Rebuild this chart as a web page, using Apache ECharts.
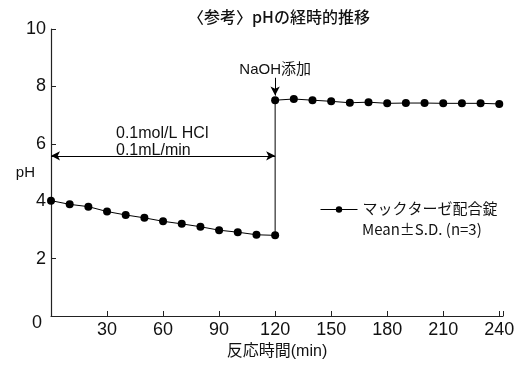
<!DOCTYPE html>
<html><head><meta charset="utf-8">
<script src="https://cdn.jsdelivr.net/npm/echarts@6/dist/echarts.min.js"></script>
<style>html,body{margin:0;padding:0;background:#fff}#c{width:525px;height:365px}</style>
</head><body><div id="c"></div>
<script>
const times = [0,10,20,30,40,50,60,70,80,90,100,110,120,120,130,140,150,160,170,180,190,200,210,220,230,240];
const phValues = [4.02,3.89,3.81,3.64,3.52,3.42,3.30,3.21,3.11,2.99,2.92,2.83,2.81,7.52,7.56,7.52,7.48,7.43,7.45,7.41,7.42,7.42,7.41,7.41,7.41,7.39];
const xTicks = [30,60,90,120,150,180,210,240];
const yTicks = [0,2,4,6,8,10];
const seriesName = 'マックターゼ配合錠';
const noteText = 'Mean±S.D. (n=3)';
const hclText = ['0.1mol/L HCl','0.1mL/min'];
const naohText = 'NaOH添加';

const latin = '"Liberation Sans", "Noto Sans CJK JP", sans-serif';
const cjk = '"Noto Sans CJK JP", sans-serif';
const narrow = '"Liberation Sans Narrow", "Liberation Sans", sans-serif';
const chart = echarts.init(document.getElementById('c'));
chart.setOption({
  animation:false,
  backgroundColor:'#fff',
  title:{text:'〈参考〉pHの経時的推移',left:274,textAlign:'center',top:4,
    textStyle:{fontSize:16,fontWeight:500,color:'#111',fontFamily:cjk}},
  grid:{left:51,right:22,top:29,bottom:43,containLabel:false},
  legend:{data:[seriesName],left:315,top:197,itemWidth:37,itemHeight:8,
    lineStyle:{width:1},
    textStyle:{fontSize:15,color:'#111',fontFamily:latin}},
  graphic:[{type:'text',left:362,top:222,style:{text:noteText,fontSize:15,fill:'#111',fontFamily:cjk}}],
  xAxis:{type:'value',min:0,max:242,interval:30,
    name:'反応時間(min)',nameLocation:'middle',nameGap:28,nameMoveOverlap:false,
    nameTextStyle:{fontSize:16,color:'#111',fontFamily:latin},
    axisLine:{lineStyle:{color:'#222',width:1.2}},
    axisTick:{inside:true,length:5,lineStyle:{color:'#222'}},
    axisLabel:{fontSize:18,color:'#111',fontFamily:narrow,margin:5,
      formatter:v=>xTicks.includes(v)?String(v):''},
    splitLine:{show:false}},
  yAxis:{type:'value',min:0,max:10,interval:2,
    name:'pH',nameLocation:'middle',nameGap:16,nameRotate:0,nameMoveOverlap:false,
    nameTextStyle:{fontSize:15,color:'#111',fontFamily:latin,padding:[0,0,10,0]},
    axisLine:{show:true,lineStyle:{color:'#222',width:1.2}},
    axisTick:{show:true,inside:true,length:5,lineStyle:{color:'#222'}},
    axisLabel:{fontSize:18,color:'#111',fontFamily:narrow,margin:5,
      formatter:v=>yTicks.includes(v)?(v===0?'{z|0}':String(v)):'',
      rich:{z:{fontSize:18,fontFamily:narrow,color:'#111',padding:[14,4,0,0]}}},
    splitLine:{show:false}},
  series:[{
    name:seriesName,type:'line',
    data:times.map((t,i)=>[t,phValues[i]]),
    symbol:'circle',symbolSize:8,
    itemStyle:{color:'#000'},lineStyle:{color:'#000',width:1},
    markLine:{silent:true,symbolSize:[7,9],
      lineStyle:{color:'#000',width:1,type:'solid'},
      data:[
        [{coord:[0,5.58],symbol:'arrow'},{coord:[120,5.58],symbol:'arrow',
          label:{show:true,position:'insideStartTop',formatter:hclText.join('\n'),
            fontSize:16,lineHeight:17,color:'#111',fontFamily:latin,align:'left',padding:[0,0,0,68],distance:-3}}],
        [{coord:[120,8.3],symbol:'none'},{coord:[120,7.68],symbol:'arrow',
          label:{show:true,position:'start',formatter:naohText,fontSize:15,color:'#111',fontFamily:latin,distance:0}}]
      ]}
  }]
});
</script></body></html>
